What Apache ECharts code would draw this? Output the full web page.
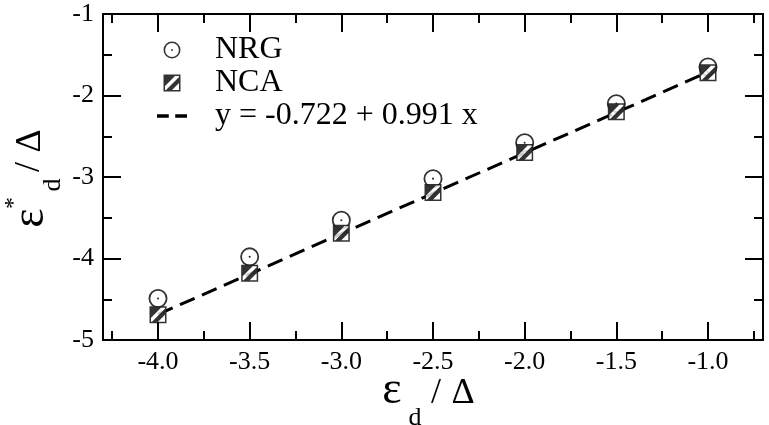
<!DOCTYPE html>
<html><head><meta charset="utf-8">
<script src="https://cdn.jsdelivr.net/npm/echarts@6/dist/echarts.min.js"></script>
<style>html,body{margin:0;padding:0;background:#fff}#c{width:769px;height:425px}</style>
</head><body><div id="c"></div>
<script>
// ---- data ----
const xValues = [-4.0, -3.5, -3.0, -2.5, -2.0, -1.5, -1.0];
const nrgValues = [-4.49, -3.98, -3.53, -3.02, -2.58, -2.10, -1.65];
const ncaValues = [-4.69, -4.18, -3.69, -3.19, -2.70, -2.20, -1.72];
const fitX = [-4.0, -1.0];
const fitY = [-4.686, -1.713];
const xMajorTicks = [-4.0, -3.5, -3.0, -2.5, -2.0, -1.5, -1.0];
const xMinorTicks = [-4.25, -3.75, -3.25, -2.75, -2.25, -1.75, -1.25, -0.75];
const yTicks = [-5, -4, -3, -2, -1];
const seriesNames = ['NRG', 'NCA', 'y = -0.722 + 0.991 x'];

// ---- styles ----
const FONT = '"Liberation Serif", "Times New Roman", serif';
const ringPath = 'path://M9,0 A9,9 0 1,1 9,18 A9,9 0 1,1 9,0 Z M9,1.7 A7.3,7.3 0 1,0 9,16.3 A7.3,7.3 0 1,0 9,1.7 Z M9,8 A1,1 0 1,1 9,10 A1,1 0 1,1 9,8 Z';
const sqPath = 'path://M0,0 H17 V17 H0 Z M1.5,1.5 V15.5 H15.5 V1.5 Z M1.5,1.5 H11.5 L1.5,11.5 Z M2.5,15.5 L15.5,2.5 V8.5 L8.5,15.5 Z';
const dashPath = 'path://M0,0 H11 V3.2 H0 Z M17,0 H28 V3.2 H17 Z';
const tickLine = {color: '#000', width: 2};

function xAx(pos, ticks, len, labels, line) {
  return {
    type: 'value', position: pos, min: -4.3, max: -0.7,
    axisLine: {show: line, onZero: false, lineStyle: {color: '#000', width: 2}},
    axisTick: {show: true, inside: true, length: len, customValues: ticks, lineStyle: tickLine},
    axisLabel: {show: labels, customValues: ticks, formatter: v => v.toFixed(1),
      color: '#000', fontFamily: FONT, fontSize: 26, margin: 9},
    splitLine: {show: false}
  };
}
function yAx(pos, labels) {
  return {
    type: 'value', position: pos, min: -5, max: -1, interval: 1,
    axisLine: {show: true, onZero: false, lineStyle: {color: '#000', width: 2}},
    axisTick: {show: true, inside: true, length: 18, lineStyle: tickLine},
    minorTick: {show: true, splitNumber: 2, length: 9, lineStyle: tickLine},
    axisLabel: {show: labels, color: '#000', fontFamily: FONT, fontSize: 26, margin: 9,
      customValues: yTicks, formatter: v => String(v)},
    splitLine: {show: false}
  };
}
function T(text, x, y, size) {
  return {type: 'text', x: x, y: y, style: {text: text, font: size + 'px ' + FONT,
    fill: '#000', align: 'center', verticalAlign: 'middle', textAlign: 'center', textVerticalAlign: 'middle'}};
}

const chart = echarts.init(document.getElementById('c'), null, {renderer: 'canvas'});
chart.setOption({
  animation: false,
  backgroundColor: '#fff',
  grid: {left: 103, right: 6, top: 14, bottom: 85},
  xAxis: [
    xAx('bottom', xMajorTicks, 18, true, true),
    xAx('bottom', xMinorTicks, 9, false, false),
    xAx('top', xMajorTicks, 18, false, true),
    xAx('top', xMinorTicks, 9, false, false)
  ],
  yAxis: [yAx('left', true), yAx('right', false)],
  legend: {
    left: 157, top: 34, orient: 'vertical', padding: 0, itemGap: 1,
    itemWidth: 30, itemHeight: 17, selectedMode: false,
    textStyle: {fontFamily: FONT, fontSize: 32, color: '#000', padding: [0, 0, 0, 23]},
    data: [
      {name: seriesNames[0], icon: ringPath},
      {name: seriesNames[1], icon: sqPath},
      {name: seriesNames[2], icon: dashPath}
    ]
  },
  series: [
    {name: seriesNames[2], type: 'line', data: fitX.map((x, i) => [x, fitY[i]]),
      symbol: 'none', color: '#000', itemStyle: {color: '#000'},
      lineStyle: {type: [16, 8], width: 3, color: '#000'}, z: 2, silent: true},
    {name: seriesNames[0], type: 'scatter', data: xValues.map((x, i) => [x, nrgValues[i]]),
      symbol: ringPath, symbolSize: 19, itemStyle: {color: '#000'}, color: '#000', z: 3},
    {name: 'NCA-bg', type: 'scatter', data: xValues.map((x, i) => [x, ncaValues[i]]),
      symbol: 'rect', symbolSize: 16, itemStyle: {color: '#fff'}, z: 4, silent: true},
    {name: seriesNames[1], type: 'scatter', data: xValues.map((x, i) => [x, ncaValues[i]]),
      symbol: sqPath, symbolSize: 17, itemStyle: {color: '#000'}, color: '#000', z: 5}
  ],
  graphic: [
    T('ε', 392, 391, 46), T('d', 415, 418, 26), T('/', 436, 394, 36), T('Δ', 463, 394, 36),
    {type: 'group', x: 45, y: 230, rotation: Math.PI / 2, children: [
      T('ε', 12, -14, 46), T('*', 27, -31, 24), T('d', 45, 8, 26), T('/', 63, -15, 36), T('Δ', 89, -14, 36)
    ]}
  ]
});
</script></body></html>
